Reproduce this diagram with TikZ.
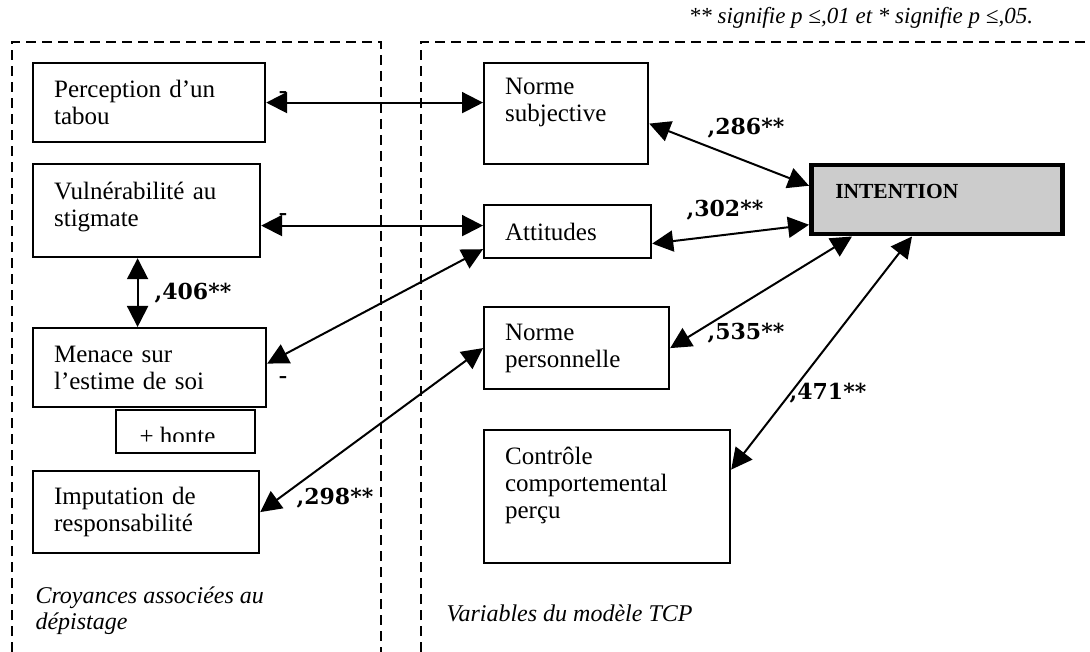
\documentclass[tikz,border=0pt]{standalone}
\usepackage{fontspec}
\setmainfont{Liberation Serif}
\newfontfamily\chiffres{DejaVu Serif}
\usepackage{xcolor}
\usetikzlibrary{arrows.meta}
\definecolor{grisIntention}{RGB}{204,204,204}
\tikzset{
	boite/.style={draw, line width=2.2pt, anchor=north west, align=left,
		inner xsep=21pt, inner ysep=0pt, font=\fontsize{25}{27}\selectfont},
	fleche/.style={line width=2pt,
		{Triangle[length=21pt,width=21pt]}-{Triangle[length=21pt,width=21pt]}},
	coef/.style={font=\chiffres\bfseries\fontsize{22}{24}\selectfont},
	signe/.style={font=\bfseries\fontsize{25}{27}\selectfont},
	zone/.style={line width=2pt, dash pattern=on 10pt off 6pt},
	legende/.style={font=\itshape\fontsize{24}{26}\selectfont, align=left, anchor=west}
}

\begin{document}
\begin{tikzpicture}[x=1pt, y=-1pt]
	\useasboundingbox (0,0) rectangle (1090,652);
	\node[font=\itshape\fontsize{23}{25}\selectfont] (seuils) at (861,18)
	{** signifie p ≤,01 et * signifie p ≤,05.};
	% the two dashed frames
	\draw[zone] (12,652) -- (12,42) -- (381,42) -- (381,652);
	\draw[zone] (421,652) -- (421,42) -- (1090,42);
	% left column: beliefs
	\node[boite, text width=190pt, minimum height=79pt] (tabou) at (32,62) {Perception d’un\\tabou};
	\node[boite, text width=185pt, minimum height=93pt] (vuln) at (32,163) {Vulnérabilité au\\stigmate\\[-15pt]\mbox{}};
	\node[boite, text width=191pt, minimum height=79pt] (menace) at (32,327) {Menace sur\\l’estime de soi};
	\node[boite, minimum width=139pt, minimum height=43pt, inner sep=0pt] (honte) at (115,409) {};
	\begin{scope}
		\clip (115,409) rectangle (254,441);
		\node[font=\fontsize{25}{27}\selectfont, anchor=base west] (honteTxt) at (136,444) {+ honte};
	\end{scope}
	\node[boite, text width=184pt, minimum height=82pt] (imput) at (32,470) {Imputation de\\responsabilité};
	\node[legende] (croyances) at (32,611) {Croyances associées au\\dépistage};
	% right column: TCP variables
	\node[boite, text width=122pt, minimum height=101pt] (normesub) at (483,62) {Norme\\subjective\\\mbox{}};
	\node[boite, text width=125pt, minimum height=53pt] (att) at (483,204) {Attitudes};
	\node[boite, text width=143pt, minimum height=82pt] (normepers) at (483,306) {Norme\\personnelle};
	\node[boite, text width=204pt, minimum height=133pt] (ctrl) at (483,429) {Contrôle\\comportemental\\perçu\\\mbox{}};
	\node[boite, line width=4.5pt, fill=grisIntention, text width=203pt, inner xsep=24pt,
	minimum height=69pt, text depth=16pt, font=\bfseries\fontsize{21.5}{24}\selectfont] (intention) at (809,163) {INTENTION};
	\node[legende] (tcp) at (443,613) {Variables du modèle TCP};
	% links
	\draw[fleche] (tabou.east) -- (tabou.east -| normesub.west);
	\draw[fleche] ([yshift=-15pt]vuln.east) -- ([yshift=-15pt]vuln.east -| att.west);
	\draw[fleche] ([xshift=-9pt]vuln.south) -- ([xshift=-9pt]vuln.south |- menace.north);
	\draw[fleche] ([yshift=4pt]menace.east) -- ([yshift=10pt]att.south west);
	\draw[fleche] (imput.east) -- (normepers.west);
	\draw[fleche] ([yshift=-10pt]normesub.east) -- ([yshift=14pt]intention.west);
	\draw[fleche] ([yshift=-12pt]att.east) -- ([yshift=-25pt]intention.west);
	\draw[fleche] (normepers.east) -- ([xshift=43pt]intention.south west);
	\draw[fleche] ([yshift=27pt]ctrl.east) -- ([xshift=103pt]intention.south west);
	% coefficients and signs
	\node[coef] (c286) at (746,128) {,286**};
	\node[coef] (c302) at (725,210) {,302**};
	\node[coef] (c406) at (193,293) {,406**};
	\node[coef] (c535) at (746,333) {,535**};
	\node[coef] (c471) at (828,393) {,471**};
	\node[coef] (c298) at (335,498) {,298**};
	\node[signe] (moinsA) at (283,95) {-};
	\node[signe] (moinsB) at (283,217) {-};
	\node[signe] (moinsC) at (283,380) {-};
\end{tikzpicture}
\end{document}
